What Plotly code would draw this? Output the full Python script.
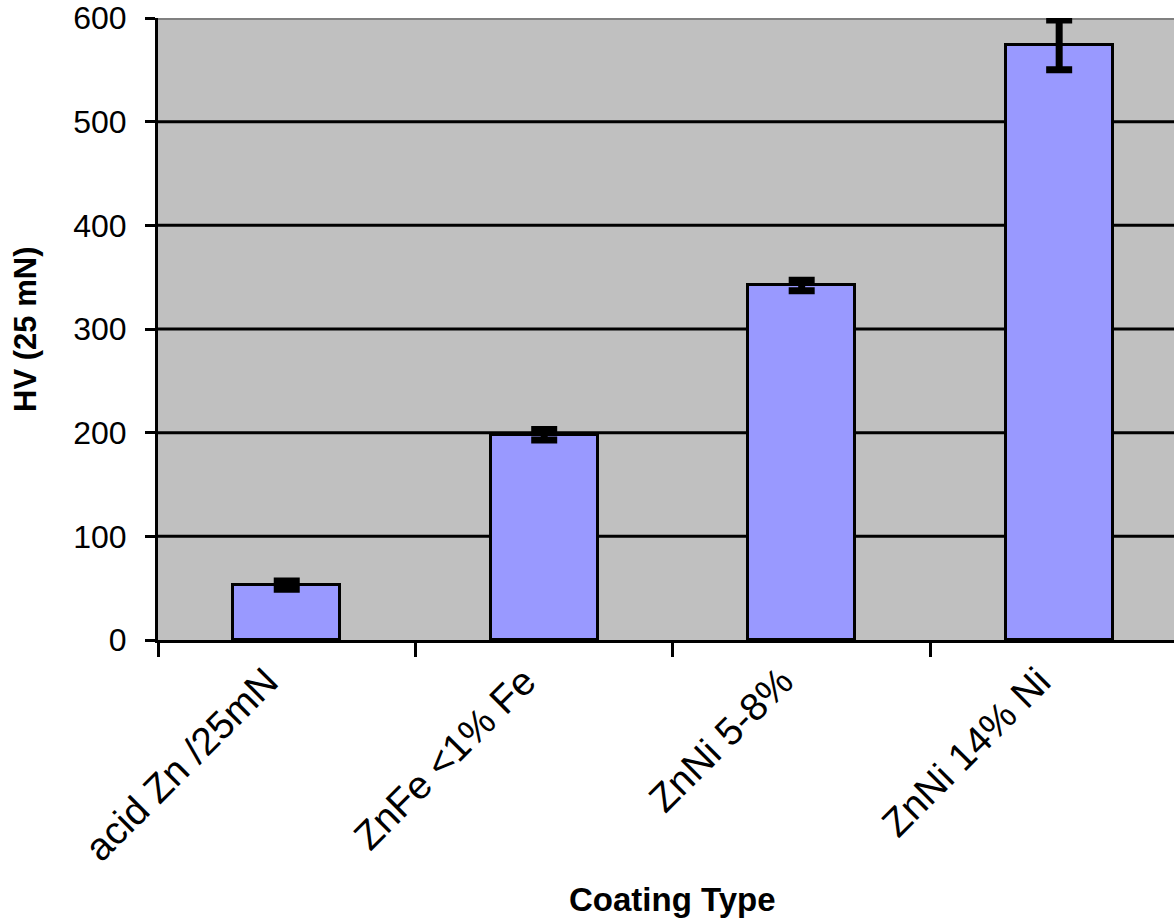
import plotly.graph_objects as go

categories = ["acid Zn /25mN", "ZnFe <1% Fe", "ZnNi 5-8%", "ZnNi 14% Ni"]
hardness = [53, 198, 342, 574]
errors = [4, 5, 5, 24]
y_ticks = [0, 100, 200, 300, 400, 500, 600]

FONT = "Arial, Liberation Sans, sans-serif"

fig = go.Figure()
fig.add_trace(go.Bar(
    x=categories, y=hardness,
    width=0.415,
    marker=dict(color="#9999FF", line=dict(color="black", width=3)),
    error_y=dict(type="data", array=errors, visible=True,
                 color="black", thickness=7, width=13),
))

# horizontal gridlines (black) except the top border, which is grey
grid_shapes = [
    dict(type="line", xref="paper", yref="y", x0=0, x1=1, y0=v, y1=v,
         line=dict(color="black", width=3), layer="below")
    for v in y_ticks[1:-1]
]
grid_shapes.append(
    dict(type="line", xref="paper", yref="y", x0=0, x1=1, y0=y_ticks[-1], y1=y_ticks[-1],
         line=dict(color="#808080", width=4), layer="below")
)

fig.update_layout(
    width=1174, height=918,
    margin=dict(l=158, r=0, t=18, b=278),
    paper_bgcolor="white",
    plot_bgcolor="#C0C0C0",
    showlegend=False,
    bargap=0,
    font=dict(family=FONT, color="black"),
    xaxis=dict(
        type="category",
        range=[-0.5, 3.446],
        showgrid=False,
        showline=True, linecolor="black", linewidth=3,
        ticks="outside", tickson="boundaries", ticklen=14, tickwidth=3, tickcolor="black",
        tickangle=-45,
        ticklabelshift=-20,
        tickfont=dict(size=39, family=FONT, color="black"),
    ),
    yaxis=dict(
        range=[0, 600],
        tickvals=y_ticks,
        showgrid=False,
        zeroline=False,
        showline=True, linecolor="black", linewidth=3,
        ticks="outside", ticklen=10, tickwidth=3, tickcolor="black",
        ticklabelstandoff=12,
        ticklabeloverflow="allow",
        tickfont=dict(size=32, family=FONT, color="black"),
    ),
    shapes=grid_shapes,
    annotations=[
        dict(text="<b>Coating Type</b>", xref="paper", yref="paper",
             x=0.506, y=-0.418, xanchor="center", yanchor="middle",
             showarrow=False, font=dict(size=33, family=FONT, color="black")),
        dict(text="<b>HV (25 mN)</b>", xref="paper", yref="paper",
             x=-0.131, y=0.5, xanchor="center", yanchor="middle", textangle=-90,
             showarrow=False, font=dict(size=31, family=FONT, color="black")),
    ],
)

fig.write_html("out.html", config={"displayModeBar": False},
               post_script="document.body.style.margin='0';")
